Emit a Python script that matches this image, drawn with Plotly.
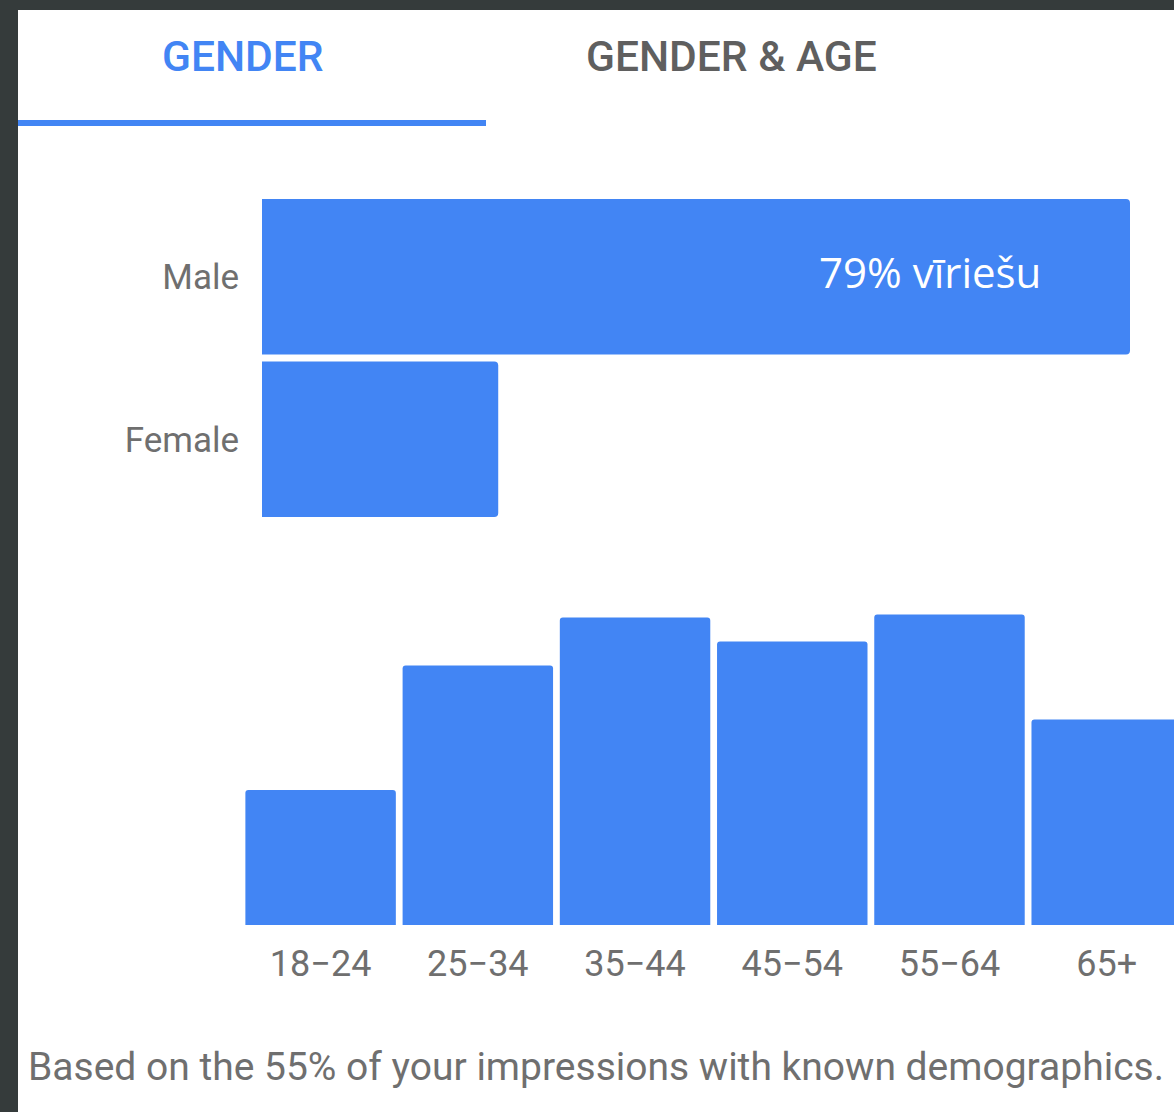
import plotly.graph_objects as go

# ---- data ----
gender_labels = ["Female", "Male"]
gender_values = [21.5, 79]
age_labels = ["18\u221224", "25\u221234", "35\u221244", "45\u221254", "55\u221264", "65+"]
age_values = [9.0, 17.3, 20.5, 18.9, 20.7, 13.7]
tab_labels = ["GENDER", "GENDER & AGE"]
male_note = "79% vīriešu"
footer = "Based on the 55% of your impressions with known demographics."

W, H = 1174, 1112
BLUE = "#4285f4"
GRAY = "#6f6f6f"
DARK = "#353b3b"


def px(x):
    return x / W


def py(y):
    return 1 - y / H


fig = go.Figure()

fig.add_trace(go.Bar(
    x=gender_values, y=gender_labels, orientation="h",
    marker=dict(color=BLUE, cornerradius=4, line=dict(width=0)),
    xaxis="x", yaxis="y", hoverinfo="skip", showlegend=False,
))
fig.add_trace(go.Bar(
    x=age_labels, y=age_values,
    marker=dict(color=BLUE, cornerradius=3, line=dict(width=0)),
    xaxis="x2", yaxis="y2", hoverinfo="skip", showlegend=False,
))

fig.update_layout(
    width=W, height=H,
    margin=dict(l=0, r=0, t=0, b=0, pad=0),
    paper_bgcolor="white", plot_bgcolor="white",
    font=dict(family="Roboto", color=GRAY),
    bargap=0.043,
    xaxis=dict(domain=[px(262), px(1130)], range=[0, 79], visible=False,
               fixedrange=True),
    yaxis=dict(domain=[py(520.5), py(195.5)], range=[-0.5, 1.5],
               type="category", categoryorder="array", categoryarray=gender_labels,
               showgrid=False, zeroline=False, showline=False, ticks="",
               tickfont=dict(size=35, color=GRAY, family="Roboto"),
               ticklabelstandoff=22, automargin=False, anchor="x"),
    xaxis2=dict(domain=[px(242), 1], range=[-0.5, 5.428], anchor="y2",
                type="category", showgrid=False, zeroline=False, showline=False, ticks="",
                tickfont=dict(size=36, color=GRAY, family="Roboto"),
                ticklabelstandoff=14, automargin=False),
    yaxis2=dict(domain=[py(925), py(595)], range=[0, 22], anchor="x2",
                visible=False),
    shapes=[
        dict(type="rect", xref="paper", yref="paper", x0=0, x1=px(18), y0=0, y1=1,
             fillcolor=DARK, line=dict(width=0), layer="above"),
        dict(type="rect", xref="paper", yref="paper", x0=0, x1=1, y0=py(10), y1=1,
             fillcolor=DARK, line=dict(width=0), layer="above"),
        dict(type="rect", xref="paper", yref="paper", x0=px(18), x1=px(486),
             y0=py(126), y1=py(120), fillcolor=BLUE, line=dict(width=0)),
    ],
    annotations=[
        dict(text=tab_labels[0], x=px(242.5), y=py(56), xref="paper", yref="paper",
             xanchor="center", yanchor="middle", showarrow=False,
             font=dict(family="Roboto", size=42.5, color=BLUE, weight=500)),
        dict(text=tab_labels[1], x=px(731), y=py(56), xref="paper", yref="paper",
             xanchor="center", yanchor="middle", showarrow=False,
             font=dict(family="Roboto", size=42.5, color="#5f5f5f", weight=500)),
        dict(text=male_note, x=px(930), y=py(271), xref="paper", yref="paper",
             xanchor="center", yanchor="middle", showarrow=False,
             font=dict(family="Open Sans", size=42, color="white")),
        dict(text=footer, x=px(26), y=py(1067), xref="paper", yref="paper",
             xanchor="left", yanchor="middle", showarrow=False,
             font=dict(family="Roboto", size=39, color=GRAY)),
    ],
)

fig.write_html(
    "out.html",
    config={"displayModeBar": False},
    post_script="document.body.style.margin='0';document.body.style.overflow='hidden';",
)
